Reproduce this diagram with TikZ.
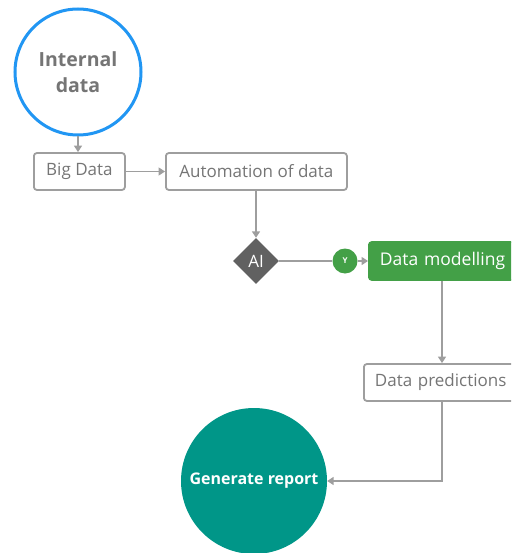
\documentclass[tikz,border=0pt]{standalone}
\usepackage{fontspec}
\setmainfont{Open Sans}
\usetikzlibrary{arrows.meta,shapes.geometric}

\definecolor{linegray}{HTML}{9E9E9E}
\definecolor{textgray}{HTML}{757575}
\definecolor{ringblue}{HTML}{2196F3}
\definecolor{aigray}{HTML}{616161}
\definecolor{okgreen}{HTML}{43A047}
\definecolor{teal}{HTML}{009688}

\begin{document}
\begin{tikzpicture}[
    x=1pt,
    y=-1pt,
    box/.style={draw=linegray, line width=1.8pt, rounded corners=3pt, fill=white,
        text=textgray, font=\fontsize{17}{20}\selectfont, minimum height=37pt,
        inner ysep=0pt, inner xsep=11pt, anchor=west},
    greenbox/.style={box, draw=okgreen, fill=okgreen, text=white},
    flow/.style={draw=linegray, line width=1.8pt, -{Triangle[width=8pt,length=6.5pt]}},
    link/.style={draw=linegray, line width=1.8pt}
]

% Frame
\clip (0,0) rectangle (511,553);

% Nodes
\node[circle, draw=ringblue, line width=3pt, fill=white, minimum size=126pt,
    align=center, text=textgray, font=\bfseries\fontsize{19.5}{26}\selectfont]
    (internal) at (78,72) {Internal\\data};
\node[box, minimum width=91pt] (bigdata) at (33,171.5) {Big Data};
\node[box, minimum width=181pt] (automation) at (165,171.5) {Automation of data};
\node[diamond, aspect=1, fill=aigray, minimum size=46pt, inner sep=0pt,
    text=white, font=\fontsize{17}{20}\selectfont] (ai) at (256,261) {AI};
\node[circle, fill=okgreen, minimum size=25pt, inner sep=0pt, text=white,
    font=\bfseries\fontsize{8}{10}\selectfont] (yes) at (345,261) {Y};
\node[greenbox, text width=126pt, align=left, minimum height=38pt,
    font=\fontsize{17.5}{20}\selectfont] (modelling) at (368,261) {Data modelling};
\node[box, text width=136pt, align=left] (predictions) at (363,382.5) {Data predictions};
\node[circle, fill=teal, minimum size=146pt, inner sep=0pt, text=white,
    font=\bfseries\fontsize{16}{19}\selectfont] (report) at (254,481) {Generate report};

% Connectors
\draw[flow] (internal) -- (bigdata.north -| internal.south);
\draw[flow] (bigdata) -- (automation);
\draw[flow] (automation.south -| ai.north) -- (ai);
\draw[link] (ai) -- (yes);
\draw[flow] (yes) -- (modelling);
\draw[flow] (modelling.south -| 442,0) -- (predictions.north -| 442,0);
\draw[flow] (predictions.south -| 442,0) |- (report.east);

\end{tikzpicture}
\end{document}
